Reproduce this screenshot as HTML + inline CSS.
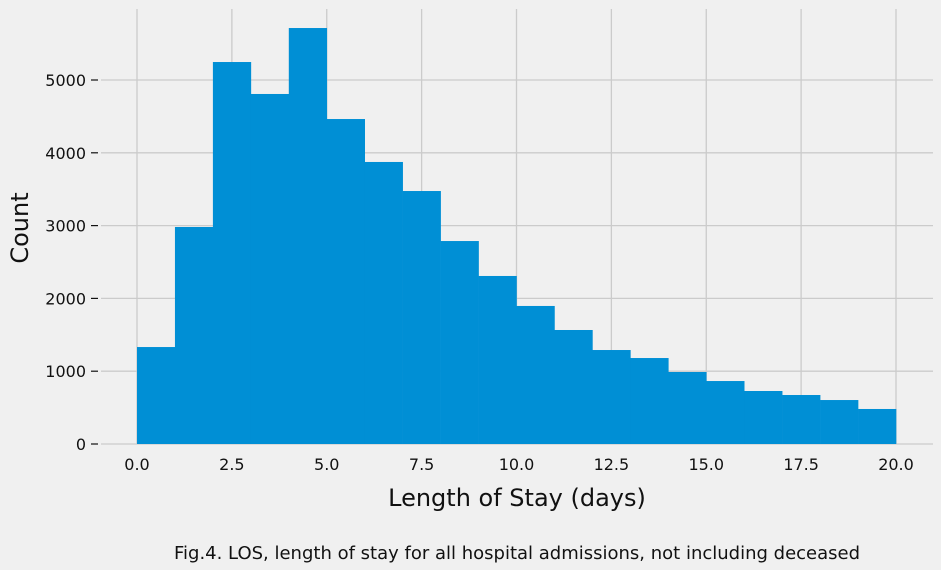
<!DOCTYPE html>
<html><head><meta charset="utf-8"><style>
body{margin:0;background:#f0f0f0;}
svg{display:block;font-family:"DejaVu Sans","Liberation Sans",sans-serif;}
</style></head><body>
<svg id="c" width="941" height="570">
<rect width="941" height="570" fill="#f0f0f0"/>
<g id="grid"></g><g id="bars"></g><g id="ticks"></g>
<text x="517" y="506" font-size="24" text-anchor="middle" fill="#111">Length of Stay (days)</text>
<text x="28" y="228" font-size="24" text-anchor="middle" fill="#111" transform="rotate(-90 28 228)">Count</text>
<text x="517" y="559" font-size="18" text-anchor="middle" fill="#111">Fig.4. LOS, length of stay for all hospital admissions, not including deceased</text>
</svg>
<script>
const binStarts=[0,1,2,3,4,5,6,7,8,9,10,11,12,13,14,15,16,17,18,19];
const counts=[1332,2981,5247,4808,5714,4464,3874,3475,2788,2308,1896,1566,1291,1181,989,865,728,673,604,481];
const xTicks=["0.0","2.5","5.0","7.5","10.0","12.5","15.0","17.5","20.0"];
const xTickVals=[0,2.5,5,7.5,10,12.5,15,17.5,20];
const yTicks=[0,1000,2000,3000,4000,5000];
const ns="http://www.w3.org/2000/svg";
const X=v=>137+v*37.95, Y=v=>444-v*0.0728;
const L=101,R=933,T=9,B=444;
function mk(p,t,a){const e=document.createElementNS(ns,t);for(const k in a)e.setAttribute(k,a[k]);p.appendChild(e);return e;}
const g=document.getElementById('grid'),b=document.getElementById('bars'),tk=document.getElementById('ticks');
yTicks.forEach(v=>{const l=mk(g,'line',{x1:L,x2:R,y1:Y(v),y2:Y(v),stroke:'#cbcbcb','stroke-width':1.3});


const t=mk(tk,'text',{x:86,y:Y(v)+6,'font-size':16,'text-anchor':'end',fill:'#111'});t.textContent=v;


const d=mk(tk,'line',{x1:91,x2:98,y1:Y(v),y2:Y(v),stroke:'#111','stroke-width':1.2});

});
xTickVals.forEach((v,i)=>{const l=mk(g,'line',{x1:X(v),x2:X(v),y1:T,y2:B,stroke:'#cbcbcb','stroke-width':1.3});


const t=mk(tk,'text',{x:X(v),y:470,'font-size':16,'text-anchor':'middle',fill:'#111'});t.textContent=xTicks[i];

});
binStarts.forEach((s,i)=>{const r=mk(b,'rect',{x:X(s),y:Y(counts[i]),width:X(s+1)-X(s)+0.3,height:Y(0)-Y(counts[i]),fill:'#008fd5'});

});
</script>
</body></html>
